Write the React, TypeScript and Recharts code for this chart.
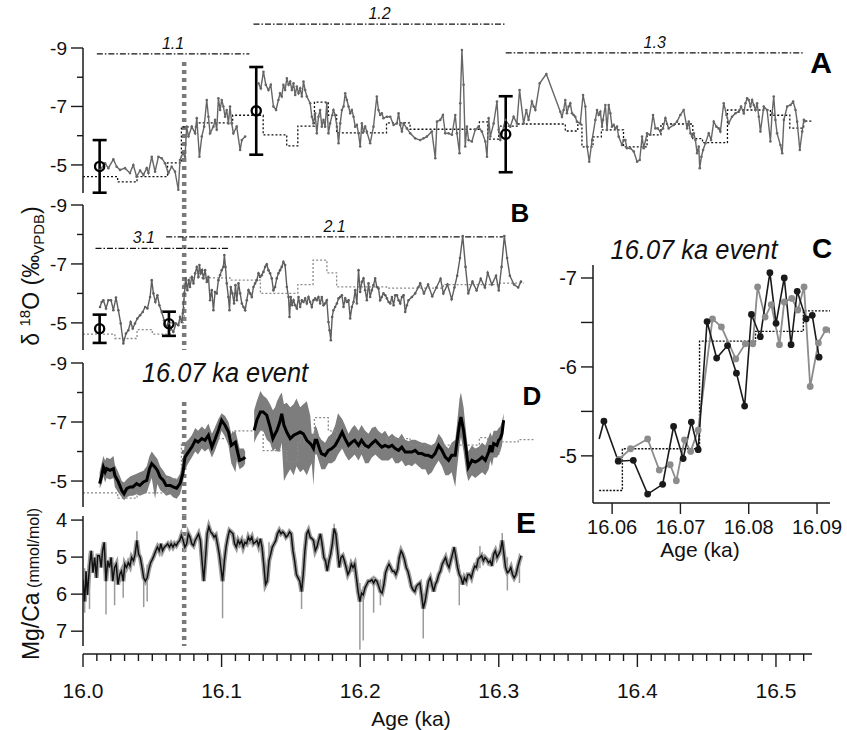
import React from 'react';
import { ComposedChart, Line, Area, Scatter, XAxis, YAxis, ReferenceLine, ErrorBar } from 'recharts';

const FONT = '"Liberation Sans", Arial, Helvetica, sans-serif';
const W = 847;
const H = 730;

// ---------- shared age axis ----------
const AGE_DOMAIN = [16.0, 16.526];
const AGE_MAJOR = [16.0, 16.1, 16.2, 16.3, 16.4, 16.5];
const AGE_TICKS = [
  16.0, 16.01, 16.02, 16.03, 16.04, 16.05, 16.06, 16.07, 16.08, 16.09,
  16.1, 16.11, 16.12, 16.13, 16.14, 16.15, 16.16, 16.17, 16.18, 16.19,
  16.2, 16.21, 16.22, 16.23, 16.24, 16.25, 16.26, 16.27, 16.28, 16.29,
  16.3, 16.31, 16.32, 16.33, 16.34, 16.35, 16.36, 16.37, 16.38, 16.39,
  16.4, 16.41, 16.42, 16.43, 16.44, 16.45, 16.46, 16.47, 16.48, 16.49,
  16.5, 16.51, 16.52,
];
const EVENT_AGE = 16.073;

const ISO_TICKS = [-9, -8, -7, -6, -5];
const ISO_MAJOR = [-9, -7, -5];
const MG_TICKS = [4, 5, 6, 7];
const C_Y_TICKS = [-7, -6.5, -6, -5.5, -5];
const C_Y_MAJOR = [-7, -6, -5];
const C_X_TICKS = [16.06, 16.07, 16.08, 16.09];

// ---------- Panel A : d18O record ----------
const A_ISO: [number, number | null][] = [
  [16.0123,-4.83],[16.0159,-5.06],[16.0183,-4.89],[16.0219,-5.19],[16.0243,-4.94],[16.0267,-4.83],[16.0303,-4.89],[16.0339,-4.72],
  [16.0363,-5.0],[16.0387,-4.6],[16.0412,-4.81],[16.0436,-4.66],[16.046,-4.89],[16.0472,-4.72],[16.0496,-5.28],[16.052,-4.77],
  [16.0544,-5.28],[16.0568,-5.23],[16.0592,-5.06],[16.0616,-4.72],[16.064,-4.94],[16.0664,-4.77],[16.0688,-4.15],[16.07,-5.17],
  [16.072,-5.4],[16.0736,-5.28],[16.0748,-6.31],[16.0761,-5.97],[16.0785,-6.31],[16.0809,-6.08],[16.0821,-6.6],[16.084,-5.28],
  [16.0857,-5.97],[16.0874,-6.31],[16.0893,-7.22],[16.0905,-6.65],[16.0917,-6.08],[16.0941,-6.31],[16.0953,-6.54],[16.0965,-6.2],
  [16.0977,-7.28],[16.0989,-6.88],[16.1001,-7.22],[16.1013,-7.0],[16.1025,-6.65],[16.1037,-6.88],[16.1049,-6.42],[16.1061,-7.0],
  [16.1073,-6.42],[16.1085,-6.08],[16.1109,-6.31],[16.1134,-5.51],[16.1146,-5.85],[16.117,-5.97],[16.121,null],
  [16.1266,-7.79],[16.1283,-7.62],[16.1302,-8.19],[16.1319,-7.74],[16.1338,-7.56],[16.1355,-7.74],[16.1374,-7.0],[16.1393,-6.88],
  [16.141,-7.22],[16.1422,-7.45],[16.1434,-7.34],[16.1446,-7.74],[16.1458,-7.56],[16.1471,-7.96],[16.1483,-7.74],[16.1495,-7.85],
  [16.1507,-7.56],[16.1519,-7.79],[16.1531,-7.39],[16.1543,-7.68],[16.1555,-7.45],[16.1567,-7.62],[16.1579,-7.34],[16.1591,-7.85],
  [16.1603,-7.56],[16.1615,-7.34],[16.1639,-7.11],[16.1651,-6.65],[16.1663,-6.42],[16.1675,-6.77],[16.1687,-6.08],[16.1699,-6.65],
  [16.1711,-6.88],[16.1723,-6.31],[16.1735,-6.54],[16.1747,-6.31],[16.1759,-7.11],[16.1771,-6.08],[16.1783,-6.42],[16.1807,-6.88],
  [16.1819,-6.71],[16.1832,-6.31],[16.1844,-5.74],[16.1856,-6.42],[16.1868,-6.88],[16.188,-7.0],[16.1892,-7.45],[16.1904,-7.22],
  [16.1916,-7.0],[16.1928,-6.77],[16.194,-6.88],[16.1952,-6.65],[16.1964,-6.31],[16.1976,-6.37],[16.1988,-6.08],[16.2,-5.63],
  [16.2012,-6.42],[16.2024,-6.14],[16.2036,-6.31],[16.2048,-6.14],[16.2072,-5.74],[16.2096,-6.31],[16.212,-7.34],[16.2132,-6.88],
  [16.2144,-6.71],[16.2156,-6.77],[16.2168,-6.6],[16.2193,-6.65],[16.2217,-6.65],[16.2241,-6.37],[16.2265,-6.42],[16.2277,-6.77],
  [16.2289,-6.37],[16.2301,-6.14],[16.2313,-6.42],[16.2337,-6.25],[16.2361,-6.08],[16.2397,-5.91],[16.2433,-5.85],
  [16.2457,-5.91],[16.2481,-5.97],[16.2517,-6.14],[16.2542,-5.23],[16.2554,-6.48],[16.2578,-6.54],[16.2597,-6.71],[16.2614,-6.08],
  [16.2638,-6.08],[16.2662,-6.03],[16.2686,-6.71],[16.2698,-6.08],[16.2717,-5.4],[16.2722,-7.11],[16.2734,-8.93],[16.2746,-7.74],
  [16.2758,-5.63],[16.277,-6.31],[16.2782,-5.85],[16.2806,-5.8],[16.283,-6.2],[16.2854,-6.31],[16.2878,-6.14],[16.2903,-5.8],
  [16.2915,-5.28],[16.2927,-6.6],[16.2939,-5.97],[16.2963,-6.42],[16.2987,-7.17],[16.2999,-6.2],[16.3011,-5.85],[16.3047,-6.54],
  [16.3083,-6.31],[16.3107,-6.65],[16.3131,-6.42],[16.315,-7.56],[16.3179,-6.42],[16.3199,-6.88],[16.3215,-6.54],[16.3239,-7.17],
  [16.3252,-7.0],[16.3264,-6.88],[16.3295,-7.79],[16.3343,-8.11],[16.3444,-6.82],[16.3456,-6.65],[16.3468,-6.88],[16.348,-7.22],
  [16.3492,-6.77],[16.3504,-7.0],[16.3516,-7.11],[16.3528,-6.77],[16.354,-6.71],[16.3552,-6.65],[16.3564,-6.48],[16.3588,-6.42],
  [16.3608,-7.39],[16.3625,-7.0],[16.3637,-5.63],[16.3653,-5.11],[16.3673,-5.85],[16.3697,-6.54],[16.3709,-6.88],[16.3721,-6.71],
  [16.3733,-6.82],[16.3745,-6.31],[16.3752,-6.54],[16.3769,-7.05],[16.3781,-6.2],[16.3793,-7.05],[16.3805,-6.77],[16.3817,-6.31],
  [16.3829,-6.37],[16.3841,-6.25],[16.3853,-6.31],[16.3865,-5.97],[16.3889,-5.68],[16.3901,-5.85],[16.3913,-5.85],[16.3925,-5.57],
  [16.3949,-5.57],[16.3974,-5.46],[16.3998,-5.11],[16.4017,-5.17],[16.4034,-5.97],[16.4046,-5.57],[16.407,-6.08],[16.4094,-6.03],
  [16.4113,-6.71],[16.413,-6.25],[16.4147,-6.25],[16.4166,-6.14],[16.4185,-6.25],[16.4202,-6.6],[16.4226,-6.25],[16.4262,-6.37],
  [16.4286,-6.48],[16.431,-6.71],[16.4334,-6.88],[16.4359,-6.25],[16.4371,-6.48],[16.4383,-6.08],[16.4395,-5.97],[16.4407,-6.08],
  [16.4419,-5.85],[16.4431,-5.4],[16.4443,-5.63],[16.445,-4.89],[16.4462,-5.28],[16.4474,-5.51],[16.4491,-5.74],[16.4515,-6.08],
  [16.4532,-5.85],[16.4551,-6.48],[16.457,-6.31],[16.4587,-6.25],[16.4599,-6.14],[16.4623,-7.11],[16.4643,-6.71],[16.4659,-6.42],
  [16.4683,-6.65],[16.4708,-6.77],[16.4732,-6.82],[16.4748,-7.0],[16.4768,-6.77],[16.478,-7.11],[16.4792,-7.28],[16.4804,-7.22],
  [16.4816,-7.0],[16.4828,-7.22],[16.484,-7.05],[16.4852,-6.88],[16.4864,-7.11],[16.4876,-6.65],[16.4888,-6.14],[16.4912,-7.0],
  [16.4936,-6.88],[16.496,-5.8],[16.4972,-6.77],[16.4984,-7.34],[16.4996,-6.54],[16.5008,-6.08],[16.5032,-5.68],[16.5045,-5.4],
  [16.5057,-6.54],[16.5081,-7.0],[16.5105,-7.05],[16.5124,-7.17],[16.5141,-6.88],[16.5153,-6.48],[16.5172,-5.51],[16.5189,-6.14],
  [16.5201,-6.54],[16.5213,-6.5],
];
const A_STEP: [number, number][] = [
  [16.0,-4.6],[16.025,-4.42],[16.039,-4.6],[16.061,-5.07],[16.071,-6.3],[16.082,-6.44],[16.108,-6.7],[16.13,-6.03],
  [16.147,-5.65],[16.155,-6.33],[16.167,-7.15],[16.177,-6.7],[16.183,-6.1],[16.219,-6.44],[16.236,-6.22],[16.286,-6.47],
  [16.292,-5.88],[16.3,-6.33],[16.314,-6.4],[16.348,-6.16],[16.357,-6.37],[16.36,-5.62],[16.368,-5.96],[16.374,-6.2],
  [16.39,-5.62],[16.407,-6.03],[16.417,-6.4],[16.44,-5.9],[16.447,-5.76],[16.465,-6.88],[16.496,-6.7],[16.51,-6.26],
  [16.52,-6.5],[16.53,-6.5],
];
const A_ERR: [number, number, number][] = [[16.012, -4.95, 0.9], [16.125, -6.85, 1.5], [16.305, -6.05, 1.3]];
const A_SEGMENTS = [
  { label: '1.1', from: 16.01, to: 16.12, v: -8.8, frac: 0.5 },
  { label: '1.2', from: 16.123, to: 16.305, v: -9.82, frac: 0.5 },
  { label: '1.3', from: 16.305, to: 16.52, v: -8.83, frac: 0.5 },
];

// ---------- Panel B ----------
const B_ISO: [number, number][] = [
  [16.0123,-5.54],[16.0135,-5.71],[16.0147,-5.77],[16.0166,-5.49],[16.0183,-5.77],[16.0202,-5.77],[16.0219,-5.43],[16.0238,-5.86],
  [16.0255,-5.43],[16.0272,-4.98],[16.0291,-4.3],[16.031,-4.64],[16.0327,-4.75],[16.0344,-5.03],[16.0359,-4.81],[16.0375,-4.98],
  [16.0392,-5.15],[16.0412,-5.26],[16.0431,-5.37],[16.0448,-5.54],[16.0465,-5.49],[16.0484,-5.88],[16.0496,-6.45],[16.0508,-6.0],
  [16.0522,-5.71],[16.0537,-5.94],[16.0551,-5.6],[16.0568,-5.37],[16.0585,-5.09],[16.0604,-4.86],[16.0616,-4.98],[16.0633,-4.81],
  [16.0652,-4.69],[16.0671,-4.98],[16.0688,-4.92],[16.07,-5.2],[16.0712,-5.03],[16.072,-5.32],[16.0732,-6.0],[16.0741,-6.51],
  [16.0753,-6.11],[16.0763,-6.45],[16.0772,-6.22],[16.0785,-6.56],[16.0797,-6.34],[16.0809,-6.68],[16.0821,-6.9],[16.0833,-6.56],
  [16.084,-6.96],[16.085,-6.68],[16.0859,-6.79],[16.0869,-6.51],[16.0881,-6.79],[16.0893,-6.39],[16.0905,-6.56],[16.0917,-5.77],
  [16.0929,-6.11],[16.0941,-5.43],[16.0953,-6.05],[16.0965,-6.0],[16.0977,-6.45],[16.0989,-6.62],[16.1001,-6.79],[16.1013,-6.9],
  [16.102,-7.3],[16.1028,-6.9],[16.1037,-6.34],[16.1049,-5.88],[16.1057,-5.43],[16.1066,-6.22],[16.1078,-6.0],[16.109,-5.66],
  [16.11,-6.28],[16.111,-5.77],[16.1122,-6.34],[16.1134,-6.0],[16.1146,-5.66],[16.1158,-5.54],[16.117,-5.43],[16.1182,-5.77],
  [16.1194,-6.11],[16.1206,-6.0],[16.1218,-5.88],[16.123,-6.22],[16.1242,-6.34],[16.1254,-6.45],[16.1266,-6.68],[16.1278,-6.56],
  [16.129,-6.62],[16.1302,-6.73],[16.1314,-6.9],[16.1326,-6.99],[16.1338,-6.79],[16.135,-6.68],[16.1362,-6.51],[16.1374,-6.11],
  [16.1386,-6.22],[16.1398,-6.51],[16.141,-6.68],[16.1422,-6.79],[16.1434,-6.9],[16.1446,-7.07],[16.1458,-6.96],[16.1471,-6.22],
  [16.1483,-5.88],[16.149,-5.2],[16.1499,-5.88],[16.1509,-5.6],[16.1519,-5.77],[16.1531,-5.6],[16.1543,-5.49],[16.1555,-5.88],
  [16.1567,-5.54],[16.1579,-5.77],[16.1591,-5.71],[16.1603,-5.83],[16.1615,-5.66],[16.1627,-5.88],[16.1639,-5.71],[16.1651,-5.54],
  [16.1663,-5.77],[16.1675,-5.83],[16.1687,-5.77],[16.1699,-5.88],[16.1711,-5.66],[16.1723,-5.88],[16.1735,-5.6],[16.1747,-5.66],
  [16.1759,-5.77],[16.1771,-5.03],[16.1779,-4.75],[16.1788,-4.41],[16.1798,-5.2],[16.1807,-5.43],[16.1819,-5.54],[16.1832,-5.66],
  [16.1844,-5.83],[16.1856,-5.88],[16.1868,-5.94],[16.188,-5.54],[16.1892,-5.83],[16.1904,-5.71],[16.1916,-5.77],[16.1928,-5.15],
  [16.194,-5.54],[16.1952,-5.71],[16.1964,-6.11],[16.1976,-5.66],[16.1988,-6.79],[16.2,-6.05],[16.2012,-6.39],[16.2024,-6.51],
  [16.2036,-6.11],[16.2048,-5.77],[16.206,-6.34],[16.2072,-5.88],[16.2084,-6.11],[16.2096,-6.28],[16.2108,-6.51],[16.212,-6.22],
  [16.2132,-6.17],[16.2144,-5.77],[16.2156,-5.88],[16.2168,-6.0],[16.2181,-5.94],[16.2193,-5.83],[16.2205,-5.71],[16.2217,-5.66],
  [16.2229,-5.88],[16.2241,-5.6],[16.2253,-5.94],[16.2265,-5.94],[16.2277,-5.77],[16.2289,-5.66],[16.2301,-5.88],[16.2313,-5.94],
  [16.2325,-5.37],[16.2337,-5.6],[16.2349,-5.77],[16.2373,-5.88],[16.2397,-6.0],[16.2421,-6.22],[16.2433,-6.34],
  [16.246,-6.0],[16.249,-6.3],[16.252,-5.9],[16.255,-6.2],[16.258,-6.5],[16.26,-6.0],[16.263,-6.3],[16.266,-5.8],
  [16.268,-6.2],[16.27,-6.6],[16.272,-7.2],[16.274,-7.95],[16.276,-6.9],[16.278,-6.0],[16.281,-6.4],[16.284,-6.1],
  [16.287,-6.5],[16.29,-6.2],[16.292,-6.7],[16.295,-6.3],[16.298,-6.6],[16.3,-6.1],[16.302,-6.9],[16.304,-7.95],
  [16.306,-7.2],[16.308,-6.6],[16.311,-6.3],[16.314,-6.2],[16.316,-6.4],
];
const B_STEP: [number, number][] = [
  [16.0,-4.62],[16.023,-4.47],[16.039,-4.77],[16.05,-4.62],[16.063,-5.0],[16.073,-6.53],[16.106,-6.45],[16.128,-6.0],
  [16.155,-6.3],[16.166,-7.13],[16.176,-6.7],[16.183,-6.22],[16.219,-6.18],[16.26,-6.3],[16.3,-6.35],[16.318,-6.35],
];
const B_ERR: [number, number, number][] = [[16.012, -4.8, 0.48], [16.062, -4.97, 0.41]];
const B_SEGMENTS = [
  { label: '3.1', from: 16.009, to: 16.106, v: -7.53, frac: 0.36 },
  { label: '2.1', from: 16.06, to: 16.303, v: -7.92, frac: 0.5 },
];

// ---------- Panel D : stacked record (mean, envelope top, envelope bottom) ----------
const D_ROWS: [number, number | null, number | null, number | null][] = [
  [16.012,-4.91,-5.3,-4.75],[16.0135,-5.19,-5.6,-4.9],[16.0147,-5.47,-5.85,-5.15],[16.016,-5.31,-5.7,-4.95],[16.017,-5.42,-5.8,-5.1],
  [16.0195,-5.36,-5.75,-5.05],[16.022,-5.42,-5.85,-5.1],[16.023,-5.19,-5.55,-4.8],[16.0255,-4.97,-5.3,-4.6],[16.028,-4.68,-5.0,-4.45],
  [16.0296,-4.57,-4.95,-4.35],[16.0315,-4.74,-5.05,-4.45],[16.034,-4.8,-5.15,-4.5],[16.036,-4.8,-5.2,-4.5],[16.0387,-4.91,-5.25,-4.55],
  [16.041,-4.85,-5.3,-4.5],[16.0436,-4.97,-5.35,-4.55],[16.046,-5.02,-5.5,-4.6],[16.048,-5.42,-5.85,-4.9],[16.0496,-5.59,-6.0,-5.1],
  [16.052,-5.47,-5.85,-4.4],[16.0537,-5.36,-5.75,-4.9],[16.0556,-5.14,-5.5,-4.7],[16.058,-5.02,-5.35,-4.6],[16.06,-4.85,-5.2,-4.5],
  [16.063,-4.85,-5.15,-4.55],[16.065,-4.8,-5.1,-4.45],[16.0676,-4.76,-5.05,-4.4],[16.07,-4.91,-5.25,-4.55],[16.072,-5.25,-5.7,-4.9],
  [16.0736,-5.81,-6.3,-5.4],[16.076,-5.98,-6.4,-5.6],[16.0785,-6.15,-6.55,-5.8],[16.081,-6.38,-6.8,-6.0],[16.083,-6.32,-6.7,-5.9],
  [16.0857,-6.44,-6.85,-6.1],[16.088,-6.38,-6.75,-6.0],[16.0905,-6.55,-6.95,-6.1],[16.093,-6.15,-6.6,-5.8],[16.095,-6.38,-6.8,-6.0],
  [16.0977,-6.72,-7.1,-6.35],[16.1,-7.06,-7.3,-6.7],[16.1025,-6.89,-7.2,-6.5],[16.105,-6.66,-7.0,-6.2],[16.107,-6.21,-6.6,-5.6],
  [16.11,-6.32,-6.7,-5.3],[16.111,-6.1,-6.5,-5.7],[16.113,-5.7,-6.1,-5.4],[16.116,-5.76,-6.1,-5.5],[16.117,-5.81,-6.0,-5.6],
  [16.12,null,null,null],
  [16.1235,-6.72,-7.4,-6.3],[16.1254,-7.06,-7.7,-6.5],[16.128,-7.34,-8.05,-6.7],[16.13,-7.34,-7.9,-6.7],[16.1326,-7.23,-7.8,-6.4],
  [16.135,-6.83,-7.6,-6.3],[16.137,-6.44,-7.4,-6.0],[16.1386,-6.6,-7.5,-6.1],[16.14,-6.72,-7.7,-6.0],[16.142,-7.0,-7.9,-6.0],
  [16.1434,-7.28,-8.0,-6.3],[16.145,-6.89,-7.6,-5.0],[16.147,-6.66,-7.65,-5.2],[16.1495,-6.44,-7.5,-5.4],[16.152,-6.55,-7.6,-5.2],
  [16.154,-6.6,-7.8,-5.5],[16.1567,-6.66,-7.5,-5.3],[16.159,-6.6,-7.6,-5.4],[16.1615,-6.38,-7.7,-5.2],[16.164,-6.27,-7.2,-5.5],
  [16.165,-6.21,-6.6,-5.6],[16.1663,-6.1,-6.6,-4.85],[16.1675,-6.38,-6.9,-5.9],[16.1687,-6.38,-6.8,-5.9],[16.1706,-6.1,-6.5,-5.6],
  [16.172,-5.93,-6.4,-5.4],[16.1747,-5.87,-6.3,-5.4],[16.177,-6.04,-6.5,-5.6],[16.1795,-6.1,-6.6,-5.6],[16.182,-6.21,-6.9,-5.7],
  [16.184,-6.38,-7.3,-5.9],[16.187,-6.66,-7.1,-6.1],[16.189,-6.44,-6.9,-5.9],[16.1916,-6.21,-6.6,-5.7],[16.194,-6.32,-6.8,-5.8],
  [16.196,-6.38,-6.9,-5.9],[16.1988,-6.21,-6.7,-5.7],[16.201,-6.38,-6.9,-5.9],[16.2036,-6.21,-6.7,-5.6],[16.206,-6.15,-6.6,-5.6],
  [16.2084,-6.27,-6.8,-5.8],[16.211,-6.38,-6.85,-5.9],[16.213,-6.27,-6.7,-5.8],[16.2156,-6.15,-6.6,-5.7],[16.218,-6.21,-6.7,-5.7],
  [16.2205,-6.15,-6.5,-5.7],[16.223,-6.21,-6.6,-5.8],[16.2253,-6.1,-6.5,-5.6],[16.2277,-6.04,-6.45,-5.6],[16.23,-6.15,-6.6,-5.7],
  [16.2325,-5.98,-6.4,-5.5],[16.235,-5.98,-6.35,-5.55],[16.2373,-5.98,-6.4,-5.5],[16.2397,-6.04,-6.4,-5.6],[16.242,-5.93,-6.35,-5.5],
  [16.2445,-5.93,-6.3,-5.4],[16.247,-5.87,-6.3,-5.4],[16.249,-5.87,-6.25,-5.2],[16.2517,-5.81,-6.2,-5.3],[16.254,-5.93,-6.3,-5.5],
  [16.2566,-6.21,-6.6,-5.7],[16.259,-6.04,-6.45,-5.5],[16.2614,-5.81,-6.2,-5.2],[16.2638,-5.7,-6.1,-5.2],[16.266,-5.87,-6.3,-5.3],
  [16.2686,-5.87,-6.4,-4.8],[16.2698,-6.32,-6.9,-5.4],[16.2717,-6.94,-7.8,-6.2],[16.2727,-7.17,-8.0,-6.5],[16.2746,-6.72,-7.5,-6.0],
  [16.2765,-6.04,-6.6,-5.3],[16.278,-5.47,-6.0,-5.0],[16.2806,-5.7,-6.2,-5.2],[16.283,-5.64,-6.1,-5.1],[16.2854,-5.7,-6.15,-5.2],
  [16.288,-5.81,-6.3,-5.3],[16.2903,-5.7,-6.2,-5.2],[16.2927,-5.98,-6.5,-5.4],[16.2939,-6.21,-6.65,-5.7],[16.2951,-5.98,-6.5,-5.5],
  [16.2963,-6.27,-6.7,-5.8],[16.2987,-6.21,-6.7,-5.8],[16.2999,-6.38,-6.8,-5.9],[16.3011,-6.44,-6.85,-6.0],[16.3023,-6.6,-7.0,-6.2],
  [16.3035,-7.06,-7.3,-6.8],
];
const D_STEP: [number, number][] = [
  [16.0,-4.6],[16.025,-4.42],[16.039,-4.6],[16.061,-5.07],[16.071,-6.3],[16.082,-6.44],[16.108,-6.7],[16.13,-6.03],
  [16.147,-5.65],[16.155,-6.33],[16.167,-7.15],[16.177,-6.7],[16.183,-6.1],[16.219,-6.44],[16.236,-6.22],[16.286,-6.47],
  [16.292,-5.88],[16.3,-6.33],[16.314,-6.4],[16.325,-6.4],
];

// ---------- Panel E : Mg/Ca ----------
const E_MG: [number, number][] = [
  [16.0,5.61],[16.0012,6.2],[16.0022,5.38],[16.0032,6.02],[16.0047,5.24],[16.0059,4.83],[16.0072,5.42],[16.0084,5.01],
  [16.0097,5.56],[16.0106,4.96],[16.0119,4.96],[16.0131,5.28],[16.0141,4.83],[16.0153,4.6],[16.0166,5.65],[16.0178,5.1],
  [16.0191,5.28],[16.0203,5.01],[16.0215,5.65],[16.0228,5.28],[16.024,5.19],[16.0252,5.74],[16.0265,5.47],[16.0277,5.38],
  [16.029,5.65],[16.0302,5.19],[16.0314,5.28],[16.0327,5.15],[16.0339,5.24],[16.0351,5.01],[16.0364,5.1],[16.0376,4.92],
  [16.0389,4.55],[16.0401,4.92],[16.0413,5.01],[16.0426,5.28],[16.0438,5.56],[16.045,5.65],[16.0463,5.56],[16.0475,5.33],
  [16.0488,5.15],[16.05,5.06],[16.0512,4.96],[16.0525,4.83],[16.0537,4.73],[16.055,4.83],[16.0562,4.64],[16.0574,4.83],
  [16.0587,4.73],[16.0599,4.69],[16.0611,4.64],[16.0624,4.73],[16.0636,4.64],[16.0649,4.73],[16.0661,4.64],[16.0673,4.69],
  [16.0686,4.6],[16.0698,4.55],[16.071,4.41],[16.0723,4.55],[16.0735,4.73],[16.0748,4.64],[16.076,4.37],[16.0772,4.46],
  [16.0785,4.64],[16.0797,4.69],[16.0809,4.55],[16.0822,4.46],[16.0834,4.37],[16.0847,4.55],[16.0859,5.1],[16.0871,5.65],
  [16.0884,5.01],[16.0896,4.37],[16.0908,4.18],[16.0921,4.32],[16.0933,4.37],[16.0946,4.46],[16.0958,4.41],[16.097,4.64],
  [16.0983,4.92],[16.0995,5.28],[16.1007,5.65],[16.102,5.1],[16.1032,4.73],[16.1045,4.46],[16.1057,4.28],[16.1069,4.32],
  [16.1082,4.37],[16.1094,4.64],[16.1106,4.73],[16.1119,4.55],[16.1131,4.64],[16.1144,4.55],[16.1156,4.73],[16.1168,4.6],
  [16.1181,4.64],[16.1193,4.46],[16.1205,4.55],[16.1218,4.46],[16.123,4.64],[16.1243,4.6],[16.1255,4.55],[16.1267,4.69],
  [16.128,4.5],[16.1292,4.73],[16.1304,5.19],[16.1317,5.74],[16.1329,5.65],[16.1342,5.1],[16.1354,4.92],[16.1366,4.73],
  [16.1379,4.64],[16.1391,4.55],[16.1403,4.37],[16.1416,4.28],[16.1428,4.37],[16.1441,4.32],[16.1453,4.37],[16.1465,4.46],
  [16.1478,4.41],[16.149,4.32],[16.1502,4.37],[16.1515,4.83],[16.1527,5.1],[16.154,5.47],[16.1552,5.56],[16.1564,5.65],
  [16.1577,5.93],[16.1589,5.47],[16.1601,4.83],[16.1614,4.37],[16.1626,4.28],[16.1639,4.46],[16.1651,4.5],[16.1663,4.55],
  [16.1676,4.83],[16.1688,4.73],[16.17,4.55],[16.1713,4.37],[16.1725,4.64],[16.1738,5.01],[16.175,5.1],[16.1762,5.38],
  [16.1775,5.1],[16.1787,4.92],[16.1799,4.64],[16.1812,4.23],[16.1824,4.37],[16.1837,4.83],[16.1849,5.28],[16.1861,5.01],
  [16.1874,4.96],[16.1886,5.1],[16.1899,5.28],[16.1911,5.47],[16.1923,5.38],[16.1936,5.19],[16.1948,5.28],[16.196,5.19],
  [16.1973,5.56],[16.1985,5.93],[16.1998,6.2],[16.201,5.97],[16.2022,6.02],[16.2035,5.83],[16.2047,5.74],[16.2059,5.65],
  [16.2072,5.65],[16.2084,5.61],[16.2097,5.7],[16.2109,5.61],[16.2121,5.65],[16.2134,5.79],[16.2146,5.93],[16.2158,5.97],
  [16.2171,5.74],[16.2183,5.42],[16.2196,5.28],[16.2208,5.19],[16.222,5.28],[16.2233,5.38],[16.2245,5.38],[16.2257,5.47],
  [16.227,5.33],[16.2282,5.01],[16.2295,4.83],[16.2307,4.92],[16.2319,5.06],[16.2332,5.28],[16.2344,5.38],[16.2356,5.56],
  [16.2369,5.79],[16.2381,5.88],[16.2394,5.93],[16.2406,5.79],[16.2418,5.74],[16.2431,5.7],[16.2443,6.02],[16.2455,6.39],
  [16.2468,6.2],[16.248,5.93],[16.2493,5.65],[16.2505,5.56],[16.2517,5.74],[16.253,5.93],[16.2542,5.74],[16.2554,5.65],
  [16.2567,5.47],[16.2579,5.38],[16.2592,5.19],[16.2604,5.1],[16.2616,5.01],[16.2629,5.19],[16.2641,5.28],[16.2653,5.1],
  [16.2666,4.92],[16.2678,4.73],[16.2691,5.01],[16.2703,5.28],[16.2715,5.47],[16.2728,5.56],[16.274,5.74],[16.2752,5.56],
  [16.2765,5.65],[16.2777,5.47],[16.279,5.47],[16.2802,5.56],[16.2814,5.38],[16.2827,5.24],[16.2839,5.28],[16.2851,5.06],
  [16.2864,5.01],[16.2876,4.96],[16.2889,5.1],[16.2901,5.01],[16.2913,5.06],[16.2926,5.15],[16.2938,5.1],[16.295,5.24],
  [16.2963,4.92],[16.2975,4.83],[16.2988,5.01],[16.3,4.92],[16.3012,4.83],[16.3025,4.55],[16.3037,4.92],[16.3049,5.28],
  [16.3062,5.42],[16.3074,5.38],[16.3087,5.28],[16.3099,5.47],[16.3111,5.56],[16.3124,5.47],[16.3136,5.28],[16.3149,5.1],
  [16.3161,4.96],
];
const E_SPIKES: [number, number, number][] = [
  [16.0012,5.3,6.5],[16.0047,4.9,6.4],[16.0166,5.0,6.55],[16.0228,5.2,6.3],[16.029,5.3,6.1],[16.0389,4.3,5.0],[16.0438,5.3,6.35],
  [16.0463,5.2,6.2],[16.0908,4.05,4.5],[16.1007,5.2,6.65],[16.1342,4.6,5.3],[16.1577,5.5,6.4],[16.1812,4.1,4.5],[16.1998,5.7,7.5],
  [16.2022,5.8,7.25],[16.2097,5.5,6.5],[16.2146,5.6,6.3],[16.2455,6.0,7.2],[16.2715,5.2,6.3],[16.2864,4.7,5.3],[16.3025,4.35,4.9],
  [16.3062,5.0,5.9],[16.3149,4.9,5.7],
];

// ---------- Panel C : 16.07 ka event close-up ----------
const C_BLACK: [number, number][] = [
  [16.0581,-5.19],[16.0588,-5.39],[16.0609,-4.94],[16.0631,-4.95],[16.0652,-4.57],[16.0674,-4.68],[16.069,-5.33],[16.0704,-4.97],
  [16.0716,-5.38],[16.0726,-5.07],[16.0739,-6.51],[16.0753,-6.1],[16.0769,-6.24],[16.0782,-5.93],[16.0794,-5.56],[16.0804,-6.59],
  [16.0817,-6.34],[16.0831,-7.06],[16.084,-6.49],[16.0852,-7.0],[16.0862,-6.25],[16.0871,-6.85],[16.0884,-6.54],[16.0893,-6.58],
  [16.0903,-6.11],
];
const C_GRAY: [number, number][] = [
  [16.061,-4.96],[16.0627,-5.08],[16.0652,-5.19],[16.0669,-4.84],[16.0685,-4.9],[16.0694,-4.72],[16.0706,-5.18],[16.0715,-5.05],
  [16.0726,-5.29],[16.0747,-6.54],[16.076,-6.45],[16.0781,-6.09],[16.0795,-6.26],[16.0806,-6.26],[16.0813,-6.9],[16.0824,-6.56],
  [16.0833,-6.7],[16.0845,-6.25],[16.0852,-6.73],[16.0863,-6.77],[16.0872,-6.64],[16.0881,-6.9],[16.089,-5.78],[16.0902,-6.27],
  [16.0913,-6.42],[16.0921,-6.41],[16.0923,-6.13],
];
const C_STEP: [number, number][] = [
  [16.0581,-4.61],[16.0615,-5.08],[16.0728,-6.29],[16.081,-6.4],[16.088,-6.63],[16.0921,-6.63],
];

// ---------- helpers ----------
const toXY = (arr: [number, number | null][]) => arr.map(([age, v]) => ({ age, v }));
const aIso = toXY(A_ISO);
const aStep = toXY(A_STEP);
const aErr = A_ERR.map(([age, v, err]) => ({ age, v, err }));
const bIso = toXY(B_ISO);
const bStep = toXY(B_STEP);
const bErr = B_ERR.map(([age, v, err]) => ({ age, v, err }));
const dRows = D_ROWS.map(([age, m, t, b]) => ({ age, v: m, band: t === null ? null : [t, b] }));
const dStep = toXY(D_STEP);
const eMg = toXY(E_MG);
const cBlack = toXY(C_BLACK);
const cGray = toXY(C_GRAY);
const cStep = toXY(C_STEP);

const isIn = (arr: number[], v: number) => arr.some((m) => Math.abs(m - v) < 1e-6);

const makeYTick = (major: number[], len: number, minorLen: number, fontSize: number) => (props: any) => {
  const { x, y, payload } = props;
  const v = payload.value as number;
  const mj = isIn(major, v);
  return (
    <g>
      <line x1={x - (mj ? len : minorLen)} x2={x} y1={y} y2={y} stroke="#1a1a1a" strokeWidth={1.4} />
      {mj && (
        <text x={x - len - 4} y={y} dy="0.36em" textAnchor="end" fontSize={fontSize} fontFamily={FONT} fill="#111">
          {String(v)}
        </text>
      )}
    </g>
  );
};

const AgeTick = (props: any) => {
  const { x, y, payload } = props;
  const v = payload.value as number;
  const mj = isIn(AGE_MAJOR, v);
  return (
    <g>
      <line x1={x} x2={x} y1={y} y2={y + (mj ? 13 : 7)} stroke="#1a1a1a" strokeWidth={1.4} />
      {mj && (
        <text x={x} y={y + 36} dy="0.36em" textAnchor="middle" fontSize={21} fontFamily={FONT} fill="#111">
          {v.toFixed(1)}
        </text>
      )}
    </g>
  );
};

const CAgeTick = (props: any) => {
  const { x, y, payload } = props;
  const v = payload.value as number;
  return (
    <g>
      <line x1={x} x2={x} y1={y} y2={y + 11} stroke="#1a1a1a" strokeWidth={1.4} />
      <text x={x} y={y + 24} dy="0.36em" textAnchor="middle" fontSize={20} fontFamily={FONT} fill="#111">
        {v.toFixed(2)}
      </text>
    </g>
  );
};

const SegLabel = (props: any) => {
  const { viewBox, text, frac } = props;
  if (!viewBox) return null;
  const cx = viewBox.x + (viewBox.width || 0) * frac;
  return (
    <text x={cx} y={viewBox.y - 5} textAnchor="middle" fontSize={16} fontStyle="italic" fontFamily={FONT} fill="#111">
      {text}
    </text>
  );
};

const HollowCircle = (p: any) => (
  <circle cx={p.cx} cy={p.cy} r={4.6} fill="none" stroke="#000" strokeWidth={2.3} />
);

const axisLineStyle = { stroke: '#1a1a1a', strokeWidth: 1.5 };
const PLOT_LEFT = 83;
const PLOT_RIGHT = 812;

function Panel(props: { top: number; bottom: number; yDomain: number[]; yTicks: number[]; yMajor: number[]; tickFont?: number; children: any }) {
  const { top, bottom, yDomain, yTicks, yMajor, tickFont = 19, children } = props;
  return (
    <div style={{ position: 'absolute', left: 0, top: 0 }}>
      <ComposedChart width={W} height={H} margin={{ top, bottom: H - bottom, left: 0, right: W - PLOT_RIGHT }}>
        <XAxis dataKey="age" type="number" domain={AGE_DOMAIN} hide height={0} allowDataOverflow />
        <YAxis
          type="number"
          domain={yDomain}
          reversed
          ticks={yTicks}
          interval={0}
          width={PLOT_LEFT}
          tickSize={0}
          tickMargin={0}
          tickLine={false}
          axisLine={axisLineStyle}
          tick={makeYTick(yMajor, 12, 6, tickFont)}
          allowDataOverflow
        />
        {children}
      </ComposedChart>
    </div>
  );
}

const dashDot = '6 2 1.5 2';
const eventLineProps = { stroke: '#7a7a7a', strokeWidth: 4.5, strokeDasharray: '4 4', ifOverflow: 'visible' as const };

export default function App() {
  return (
    <div style={{ position: 'absolute', left: 0, top: 0, width: W, height: H, background: '#fff', overflow: 'hidden' }}>
      {/* Panel A */}
      <Panel top={48} bottom={193} yDomain={[-9, -4.04]} yTicks={ISO_TICKS} yMajor={ISO_MAJOR}>
        {[
          <ReferenceLine key="evA" segment={[{ x: EVENT_AGE, y: -8.52 }, { x: EVENT_AGE, y: -3.6 }]} {...eventLineProps} />,
          ...A_SEGMENTS.map((s) => (
            <ReferenceLine
              key={'sa' + s.label}
              segment={[{ x: s.from, y: s.v }, { x: s.to, y: s.v }]}
              ifOverflow="visible"
              stroke="#111"
              strokeWidth={1.3}
              strokeDasharray={dashDot}
              label={<SegLabel text={s.label} frac={s.frac} />}
            />
          )),
          <Line key="aStep" data={aStep} dataKey="v" type="stepAfter" stroke="#111" strokeWidth={1.3} strokeDasharray="2 2" dot={false} activeDot={false} isAnimationActive={false} />,
          <Line key="aIso" data={aIso} dataKey="v" type="linear" stroke="#666" strokeWidth={1.4} dot={{ r: 1.3, fill: '#666', stroke: 'none' }} activeDot={false} connectNulls={false} isAnimationActive={false} />,
          <Scatter key="aErr" data={aErr} dataKey="v" shape={HollowCircle} isAnimationActive={false}>
            <ErrorBar dataKey="err" direction="y" width={7} stroke="#000" strokeWidth={2.6} isAnimationActive={false} />
          </Scatter>,
        ]}
      </Panel>

      {/* Panel B */}
      <Panel top={205} bottom={350} yDomain={[-9, -4.08]} yTicks={ISO_TICKS} yMajor={ISO_MAJOR}>
        {[
          <ReferenceLine key="evB" segment={[{ x: EVENT_AGE, y: -9 }, { x: EVENT_AGE, y: -4.08 }]} {...eventLineProps} />,
          ...B_SEGMENTS.map((s) => (
            <ReferenceLine
              key={'sb' + s.label}
              segment={[{ x: s.from, y: s.v }, { x: s.to, y: s.v }]}
              ifOverflow="visible"
              stroke="#111"
              strokeWidth={1.3}
              strokeDasharray={dashDot}
              label={<SegLabel text={s.label} frac={s.frac} />}
            />
          )),
          <Line key="bStep" data={bStep} dataKey="v" type="stepAfter" stroke="#8a8a8a" strokeWidth={1.3} strokeDasharray="2 2" dot={false} activeDot={false} isAnimationActive={false} />,
          <Line key="bIso" data={bIso} dataKey="v" type="linear" stroke="#5e5e5e" strokeWidth={1.4} dot={{ r: 1.3, fill: '#5e5e5e', stroke: 'none' }} activeDot={false} isAnimationActive={false} />,
          <Scatter key="bErr" data={bErr} dataKey="v" shape={HollowCircle} isAnimationActive={false}>
            <ErrorBar dataKey="err" direction="y" width={7} stroke="#000" strokeWidth={2.6} isAnimationActive={false} />
          </Scatter>,
        ]}
      </Panel>

      {/* Panel D */}
      <Panel top={363} bottom={507} yDomain={[-9, -4.12]} yTicks={ISO_TICKS} yMajor={ISO_MAJOR}>
        {[
          <ReferenceLine key="evD" segment={[{ x: EVENT_AGE, y: -7.68 }, { x: EVENT_AGE, y: -3.82 }]} {...eventLineProps} />,
          <Area key="dBand" data={dRows} dataKey="band" type="linear" stroke="none" fill="#7d7d7d" fillOpacity={1} connectNulls={false} isAnimationActive={false} activeDot={false} />,
          <Line key="dStep" data={dStep} dataKey="v" type="stepAfter" stroke="#8a8a8a" strokeWidth={1.3} strokeDasharray="2 2" dot={false} activeDot={false} isAnimationActive={false} />,
          <Line key="dMean" data={dRows} dataKey="v" type="linear" stroke="#000" strokeWidth={3} dot={false} activeDot={false} connectNulls={false} isAnimationActive={false} />,
        ]}
      </Panel>

      {/* Panel E */}
      <Panel top={516} bottom={646} yDomain={[3.89, 7.4]} yTicks={MG_TICKS} yMajor={MG_TICKS} tickFont={20}>
        {[
          <ReferenceLine key="evE" segment={[{ x: EVENT_AGE, y: 3.89 }, { x: EVENT_AGE, y: 7.4 }]} {...eventLineProps} />,
          ...E_SPIKES.map(([age, lo, hi]) => (
            <ReferenceLine key={'sp' + age} segment={[{ x: age, y: lo }, { x: age, y: hi }]} ifOverflow="visible" stroke="#9a9a9a" strokeWidth={1.5} />
          )),
          <Line key="eHalo" data={eMg} dataKey="v" type="linear" stroke="#9c9c9c" strokeWidth={4.5} dot={false} activeDot={false} isAnimationActive={false} />,
          <Line key="eMg" data={eMg} dataKey="v" type="linear" stroke="#111" strokeWidth={1.5} dot={false} activeDot={false} isAnimationActive={false} />,
        ]}
      </Panel>

      {/* shared age axis (YAxis is hidden, so the plot offset comes from the left margin) */}
      <div style={{ position: 'absolute', left: 0, top: 0 }}>
        <ComposedChart width={W} height={H} margin={{ top: 653, bottom: 0, left: PLOT_LEFT, right: W - PLOT_RIGHT }}>
          <XAxis
            dataKey="age"
            type="number"
            domain={AGE_DOMAIN}
            ticks={AGE_TICKS}
            interval={0}
            height={76}
            tickSize={0}
            tickMargin={0}
            tickLine={false}
            axisLine={axisLineStyle}
            tick={AgeTick}
            allowDataOverflow
          />
          <YAxis type="number" domain={[3.89, 7.4]} hide width={0} />
          <Line data={eMg} dataKey="v" stroke="none" dot={false} activeDot={false} isAnimationActive={false} />
        </ComposedChart>
      </div>

      {/* Panel C */}
      <div style={{ position: 'absolute', left: 0, top: 0 }}>
        <ComposedChart width={W} height={H} margin={{ top: 265, bottom: H - 503 - 40, left: 593 - 40, right: W - 830 }}>
          <XAxis
            dataKey="age"
            type="number"
            domain={[16.0572, 16.0919]}
            ticks={C_X_TICKS}
            interval={0}
            height={40}
            tickSize={0}
            tickMargin={0}
            tickLine={false}
            axisLine={axisLineStyle}
            tick={CAgeTick}
            allowDataOverflow
          />
          <YAxis
            type="number"
            domain={[-7.146, -4.47]}
            reversed
            ticks={C_Y_TICKS}
            interval={0}
            width={40}
            tickSize={0}
            tickMargin={0}
            tickLine={false}
            axisLine={axisLineStyle}
            tick={makeYTick(C_Y_MAJOR, 12, 12, 20)}
            allowDataOverflow
          />
          <Line data={cStep} dataKey="v" type="stepAfter" stroke="#111" strokeWidth={1.4} strokeDasharray="2 1.5" dot={false} activeDot={false} isAnimationActive={false} />
          <Line
            data={cGray}
            dataKey="v"
            type="linear"
            stroke="#8c8c8c"
            strokeWidth={1.8}
            dot={(p: any) =>
              p.index === cGray.length - 1 ? <g key={'g' + p.index} /> : <circle key={'g' + p.index} cx={p.cx} cy={p.cy} r={3.4} fill="#8c8c8c" stroke="none" />
            }
            activeDot={false}
            isAnimationActive={false}
          />
          <Line
            data={cBlack}
            dataKey="v"
            type="linear"
            stroke="#1a1a1a"
            strokeWidth={1.6}
            dot={(p: any) =>
              p.index === 0 ? <g key={'b' + p.index} /> : <circle key={'b' + p.index} cx={p.cx} cy={p.cy} r={3.4} fill="#1a1a1a" stroke="none" />
            }
            activeDot={false}
            isAnimationActive={false}
          />
        </ComposedChart>
      </div>

      {/* text annotations */}
      <svg width={W} height={H} style={{ position: 'absolute', left: 0, top: 0, pointerEvents: 'none' }} fontFamily={FONT}>
        <text x={821} y={62} fontSize={30} fontWeight="bold" textAnchor="middle" dominantBaseline="central" fill="#000">A</text>
        <text x={520} y={213} fontSize={26} fontWeight="bold" textAnchor="middle" dominantBaseline="central" fill="#000">B</text>
        <text x={822} y={248} fontSize={28} fontWeight="bold" textAnchor="middle" dominantBaseline="central" fill="#000">C</text>
        <text x={532} y={396} fontSize={26} fontWeight="bold" textAnchor="middle" dominantBaseline="central" fill="#000">D</text>
        <text x={526} y={522} fontSize={30} fontWeight="bold" textAnchor="middle" dominantBaseline="central" fill="#000">E</text>
        <text x={694} y={250} fontSize={27} fontStyle="italic" textAnchor="middle" dominantBaseline="central" textLength={167} lengthAdjust="spacingAndGlyphs" fill="#111">16.07 ka event</text>
        <text x={225} y={373} fontSize={27} fontStyle="italic" textAnchor="middle" dominantBaseline="central" textLength={166} lengthAdjust="spacingAndGlyphs" fill="#111">16.07 ka event</text>
        <text transform="translate(39,276) rotate(-90)" textAnchor="middle" fontSize={23} fill="#111">
          <tspan>δ </tspan>
          <tspan fontSize={15} dy={-9}>18</tspan>
          <tspan dy={9}>O (‰</tspan>
          <tspan fontSize={15} dy={5}>VPDB</tspan>
          <tspan dy={-5}>)</tspan>
        </text>
        <text transform="translate(39,584) rotate(-90)" textAnchor="middle" fontSize={23} fill="#111">
          <tspan>Mg/Ca</tspan>
          <tspan fontSize={16}> (mmol/mol)</tspan>
        </text>
        <text x={411} y={718} fontSize={21} textAnchor="middle" dominantBaseline="central" fill="#111">Age (ka)</text>
        <text x={700} y={549} fontSize={21} textAnchor="middle" dominantBaseline="central" fill="#111">Age (ka)</text>
      </svg>
    </div>
  );
}
